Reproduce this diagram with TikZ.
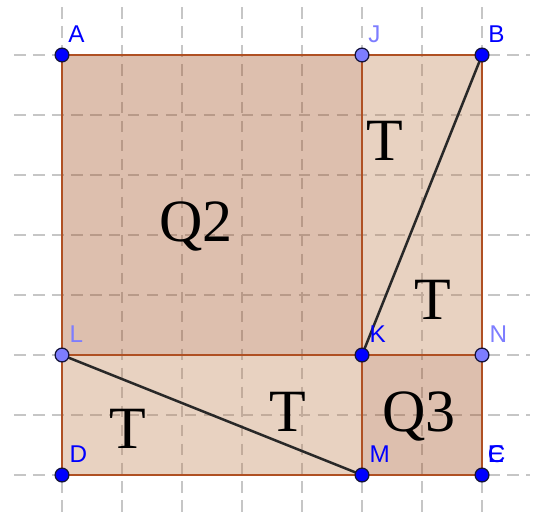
\documentclass[tikz,border=0pt]{standalone}
\usepackage{fontspec}
\usetikzlibrary{calc}
\setmainfont{Liberation Serif}
\newfontfamily\labfont{Liberation Sans}
\definecolor{gridc}{RGB}{198,198,198}
\definecolor{lightfill}{RGB}{189,126,78}
\definecolor{darkfill}{RGB}{158,72,24}
\definecolor{edgec}{RGB}{175,80,35}
\definecolor{segc}{RGB}{40,40,40}
\definecolor{ptdark}{RGB}{0,0,255}
\definecolor{ptlight}{RGB}{125,125,255}
\definecolor{ptline}{RGB}{20,20,60}
\tikzset{
  gridline/.style={draw=gridc, line width=0.65pt, dash pattern=on 5.5pt off 3.5pt},
  edge/.style={draw=edgec, line width=1pt},
  seg/.style={draw=segc, line width=1.2pt, line cap=round},
  ptA/.style={circle, fill=ptdark, draw=ptline, line width=0.6pt, minimum size=0.23cm, inner sep=0pt},
  ptB/.style={circle, fill=ptlight, draw=ptline, line width=0.6pt, minimum size=0.23cm, inner sep=0pt},
  labA/.style={anchor=base west, inner sep=0pt, text=ptdark, font=\labfont\fontsize{11.5}{13}\selectfont},
  labB/.style={anchor=base west, inner sep=0pt, text=ptlight, font=\labfont\fontsize{11.5}{13}\selectfont},
  big/.style={anchor=base, inner sep=0pt, font=\fontsize{28.45}{30}\selectfont}
}
\begin{document}
\begin{tikzpicture}[x=1cm,y=1cm]
\useasboundingbox (-1.0333,-0.7167) rectangle (7.8833,7.9167);
% grid
\foreach \i in {0,...,7} {
  \draw[gridline] (\i,7.8) -- (\i,-0.7167);
  \draw[gridline] (-0.8,\i) -- (7.8,\i);
}
% coordinates
\coordinate (A) at (0,7);
\coordinate (J) at (5,7);
\coordinate (B) at (7,7);
\coordinate (L) at (0,2);
\coordinate (K) at (5,2);
\coordinate (N) at (7,2);
\coordinate (D) at (0,0);
\coordinate (M) at (5,0);
\coordinate (C) at (7,0);
% fills
\fill[lightfill, fill opacity=0.35, even odd rule] (D) rectangle (B) (L) rectangle (J) (M) rectangle (N);
\fill[darkfill, fill opacity=0.35] (L) rectangle (J);
\fill[darkfill, fill opacity=0.35] (M) rectangle (N);
% edges
\draw[edge] (A) -- (B) -- (C) -- (D) -- cycle;
\draw[edge] (J) -- (K) -- (L);
\draw[edge] (K) -- (M);
\draw[edge] (K) -- (N);
% segments
\draw[seg] (B) -- (K);
\draw[seg] (L) -- (M);
% big labels
\node[big] (q2) at (2.233,3.9) {Q2};
\node[big] (q3) at (5.95,0.717) {Q3};
\node[big] (t1) at (5.383,5.25) {T};
\node[big] (t2) at (6.18,2.6) {T};
\node[big] (t3) at (1.1,0.45) {T};
\node[big] (t4) at (3.767,0.733) {T};
% points
\node[ptA] (pA) at (A) {};
\node[ptB] (pJ) at (J) {};
\node[ptA] (pB) at (B) {};
\node[ptB] (pL) at (L) {};
\node[ptA] (pK) at (K) {};
\node[ptB] (pN) at (N) {};
\node[ptA] (pD) at (D) {};
\node[ptA] (pM) at (M) {};
\node[ptA] (pC) at (C) {};
% point labels
\node[labA] (lA) at ($(A)+(0.1,0.21)$) {A};
\node[labB] (lJ) at ($(J)+(0.1,0.21)$) {J};
\node[labA] (lB) at ($(B)+(0.1,0.21)$) {B};
\node[labB] (lL) at ($(L)+(0.12,0.21)$) {L};
\node[labA] (lK) at ($(K)+(0.12,0.21)$) {K};
\node[labB] (lN) at ($(N)+(0.12,0.21)$) {N};
\node[labA] (lD) at ($(D)+(0.12,0.21)$) {D};
\node[labA] (lM) at ($(M)+(0.12,0.21)$) {M};
\node[labA] (lC) at ($(C)+(0.09,0.21)$) {C};
\node[labA] (lE) at ($(C)+(0.09,0.21)$) {E};
\end{tikzpicture}
\end{document}
